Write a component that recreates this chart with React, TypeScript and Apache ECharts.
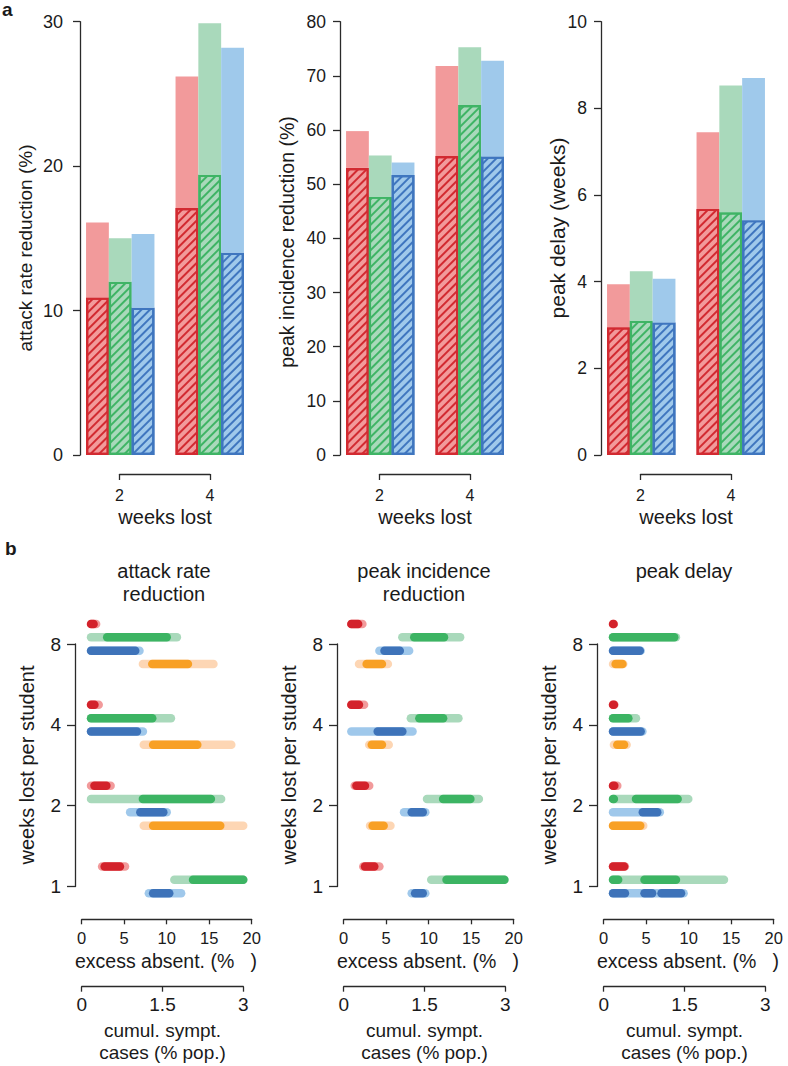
import React, { useEffect, useRef } from "react";
import * as echarts from "echarts";

// ---------- data: panel a (bars) ----------
const weeksLost = ["2", "4"];
const barColours = ["red", "green", "blue"];
// totals (light bars) and hatched part, per colour [red, green, blue], per weeks lost [2, 4]
const attackTotal = [[16.1, 26.2], [15.0, 29.9], [15.3, 28.2]];
const attackHatched = [[10.9, 17.1], [12.0, 19.4], [10.2, 14.0]];
const peakTotal = [[59.8, 71.8], [55.3, 75.3], [54.0, 72.8]];
const peakHatched = [[53.0, 55.2], [47.7, 64.6], [51.7, 55.1]];
const delayTotal = [[3.94, 7.45], [4.24, 8.53], [4.07, 8.7]];
const delayHatched = [[2.95, 5.68], [3.1, 5.6], [3.06, 5.42]];
const topMax = [30, 80, 10];
const topInterval = [10, 10, 2];
const topNames = ["attack rate reduction (%)", "peak incidence reduction (%)", "peak delay (weeks)"];

// ---------- data: panel b (ranges) ----------
const weeksPerStudent = ["1", "2", "4", "8"];
const rowColours = ["red", "green", "blue", "orange"];
// [weeks, colour, light lo, light hi, dark segments]
const attackRows: any[] = [
  ["8", "red", 1.1, 1.7, [[1.1, 1.4]]],
  ["8", "green", 1.1, 11.2, [[3.0, 10.0]]],
  ["8", "blue", 1.1, 6.8, [[1.1, 6.3]]],
  ["8", "orange", 7.2, 15.5, [[8.3, 12.5]]],
  ["4", "red", 1.1, 2.0, [[1.1, 1.5]]],
  ["4", "green", 1.1, 10.5, [[1.1, 8.3]]],
  ["4", "blue", 1.1, 7.2, [[1.1, 6.5]]],
  ["4", "orange", 7.3, 17.6, [[8.4, 13.6]]],
  ["2", "red", 1.1, 3.4, [[1.5, 2.9]]],
  ["2", "green", 1.1, 16.4, [[7.2, 15.2]]],
  ["2", "blue", 5.7, 10.0, [[6.9, 9.6]]],
  ["2", "orange", 7.3, 19.0, [[8.4, 16.3]]],
  ["1", "red", 2.4, 5.1, [[2.7, 4.5]]],
  ["1", "green", 10.9, 19.0, [[13.1, 19.0]]],
  ["1", "blue", 7.9, 11.7, [[8.4, 10.3]]],
];
const peakRows: any[] = [
  ["8", "red", 0.9, 2.2, [[0.9, 1.7]]],
  ["8", "green", 6.9, 13.7, [[8.3, 11.8]]],
  ["8", "blue", 4.2, 7.7, [[4.8, 6.6]]],
  ["8", "orange", 1.8, 5.2, [[2.7, 4.5]]],
  ["4", "red", 0.9, 2.4, [[0.9, 1.8]]],
  ["4", "green", 7.9, 13.5, [[8.9, 11.7]]],
  ["4", "blue", 0.9, 8.1, [[4.0, 6.9]]],
  ["4", "orange", 3.0, 5.3, [[3.3, 4.5]]],
  ["2", "red", 1.3, 3.0, [[1.5, 2.5]]],
  ["2", "green", 9.8, 15.9, [[11.7, 14.9]]],
  ["2", "blue", 7.1, 9.6, [[8.0, 9.3]]],
  ["2", "orange", 3.1, 5.5, [[3.4, 4.7]]],
  ["1", "red", 2.3, 4.2, [[2.5, 3.6]]],
  ["1", "green", 10.3, 18.9, [[12.1, 18.9]]],
  ["1", "blue", 8.0, 9.6, [[8.4, 9.3]]],
];
const delayRows: any[] = [
  ["8", "red", 1.1, 1.2, [[1.1, 1.15]]],
  ["8", "green", 1.1, 8.5, [[1.1, 8.3]]],
  ["8", "blue", 1.1, 4.35, [[1.1, 4.25]]],
  ["8", "orange", 1.1, 2.3, [[1.4, 2.2]]],
  ["4", "red", 1.1, 1.25, [[1.1, 1.2]]],
  ["4", "green", 1.1, 3.8, [[1.1, 2.9]]],
  ["4", "blue", 1.1, 4.55, [[1.1, 4.35]]],
  ["4", "orange", 1.2, 2.7, [[1.6, 2.4]]],
  ["2", "red", 1.1, 1.6, [[1.1, 1.25]]],
  ["2", "green", 1.1, 9.95, [[1.1, 1.2], [3.8, 8.7]]],
  ["2", "blue", 1.1, 6.6, [[4.6, 6.3]]],
  ["2", "orange", 1.1, 4.65, [[1.1, 4.3]]],
  ["1", "red", 1.1, 2.5, [[1.1, 2.4]]],
  ["1", "green", 1.1, 14.15, [[1.1, 1.7], [4.8, 8.5]]],
  ["1", "blue", 1.1, 9.4, [[1.1, 2.5], [4.8, 5.7], [6.8, 9.1]]],
];
const bottomTitles = [["attack rate", "reduction"], ["peak incidence", "reduction"], ["peak delay"]];
const absentTicks = [0, 20, 5];
const casesTicks = [0, 3, 1.5];

// ---------- styles ----------
const FONT = "'Liberation Sans', Arial, Helvetica, sans-serif";
const TXT = "#1a1a1a";
const AX = "#2a2a2a";
const barLight = ["#f29a9b", "#a9d9bb", "#9fc9eb"];
const barDark = ["#d22a31", "#3fb465", "#3f76bf"];
const rangeLight = ["#f29a9b", "#a9d9bb", "#9fc8eb", "#fdd6b4"];
const rangeDark = ["#d3222b", "#3cb463", "#3e73b9", "#f8a025"];
const rowOffsets = [-20, -6.7, 6.7, 20];

function buildRangeData(rows: any[]) {
  const light: number[][] = [];
  const dark: number[][] = [];
  rows.forEach(([wk, col, lo, hi, segs]) => {
    const g = weeksPerStudent.indexOf(wk);
    const c = rowColours.indexOf(col);
    light.push([lo, hi, g, c, 0]);
    segs.forEach(([a, b]: number[]) => dark.push([a, b, g, c, 1]));
  });
  return light.concat(dark);
}

function buildOption() {
  const grid: any[] = [];
  const xAxis: any[] = [];
  const yAxis: any[] = [];
  const series: any[] = [];
  const graphic: any[] = [];
  const add = (g: any, x: any, y: any) => {
    const i = grid.length;
    grid.push(g);
    xAxis.push({ ...x, gridIndex: i });
    yAxis.push({ ...y, gridIndex: i });
    return i;
  };
  const hiddenV = { type: "value", min: 0, max: 1, show: false };
  const line = { show: true, lineStyle: { color: AX, width: 1.3 } };
  const text = (t: string, x: number, y: number, size: number, extra: any = {}) =>
    graphic.push({
      type: "text",
      x,
      y,
      rotation: extra.rotation || 0,
      style: {
        text: t,
        fontSize: size,
        fontFamily: FONT,
        fontWeight: extra.bold ? "bold" : "normal",
        fill: TXT,
        align: extra.align || "center",
        verticalAlign: "middle",
      },
    });

  // ---- panel a ----
  const totals = [attackTotal, peakTotal, delayTotal];
  const hatched = [attackHatched, peakHatched, delayHatched];
  const topDX = [0, 260, 521];
  const tickFont = [18, 17.5, 17.5];
  const nameX = [25, 287, 557];
  const nameY = [248, 242, 228];
  const nameSize = [19, 19.5, 21];
  for (let p = 0; p < 3; p++) {
    const dx = topDX[p];
    const gb = add(
      { left: 75.5 + dx, top: 21.7, width: 179, height: 433.3 },
      { type: "category", data: weeksLost, show: false },
      { type: "value", min: 0, max: topMax[p], show: false }
    );
    barColours.forEach((_, c) => {
      series.push({
        type: "bar",
        xAxisIndex: gb,
        yAxisIndex: gb,
        stack: `s${p}_${c}`,
        barWidth: 22.8,
        barGap: "0%",
        data: hatched[p][c],
        itemStyle: {
          color: barLight[c],
          borderColor: barDark[c],
          borderWidth: 2.2,
          decal: {
            symbol: "rect",
            symbolSize: 1,
            color: barDark[c],
            dashArrayX: [1, 0],
            dashArrayY: [1.8, 3.2],
            rotation: -Math.PI / 4,
          },
        },
      });
      series.push({
        type: "bar",
        xAxisIndex: gb,
        yAxisIndex: gb,
        stack: `s${p}_${c}`,
        barWidth: 22.8,
        barGap: "0%",
        data: totals[p][c].map((v, i) => +(v - hatched[p][c][i]).toFixed(3)),
        itemStyle: { color: barLight[c] },
      });
    });
    add(
      { left: 80 + dx, top: 21.7, width: 10, height: 433.3 },
      hiddenV,
      {
        type: "value",
        min: 0,
        max: topMax[p],
        interval: topInterval[p],
        axisLine: line,
        axisTick: { show: true, length: 7, lineStyle: { color: AX, width: 1.3 } },
        axisLabel: { fontSize: tickFont[p], fontFamily: FONT, color: TXT, margin: p === 0 ? 17 : 14 },
        splitLine: { show: false },
      }
    );
    add(
      { left: 119.5 + dx, top: 460, width: 90.5, height: 14 },
      {
        type: "value",
        min: 2,
        max: 4,
        interval: 2,
        axisLine: line,
        axisTick: { show: true, length: 6, lineStyle: { color: AX, width: 1.3 } },
        axisLabel: { fontSize: 16, fontFamily: FONT, color: TXT, margin: 13 },
        splitLine: { show: false },
      },
      hiddenV
    );
    text(topNames[p], nameX[p], nameY[p], nameSize[p], { rotation: Math.PI / 2 });
    text("weeks lost", 165 + dx, 517, 20);
  }
  text("a", 2, 9, 19, { bold: true, align: "left" });
  text("b", 5, 548, 19, { bold: true, align: "left" });

  // ---- panel b ----
  const rows = [attackRows, peakRows, delayRows];
  const botDX = [0, 262, 522];
  const titleX = [164, 424, 684];
  const yNameX = [27, 289, 549];
  for (let p = 0; p < 3; p++) {
    const dx = botDX[p];
    const gd = add(
      { left: 81.7 + dx, top: 644, width: 170, height: 242.5 },
      { type: "value", min: absentTicks[0], max: absentTicks[1], show: false },
      { type: "value", min: 0, max: 3, show: false }
    );
    series.push({
      type: "custom",
      xAxisIndex: gd,
      yAxisIndex: gd,
      clip: false,
      encode: { x: [0, 1], y: 2 },
      data: buildRangeData(rows[p]),
      renderItem: (params: any, api: any) => {
        const lo = api.value(0);
        const hi = api.value(1);
        const g = api.value(2);
        const c = api.value(3);
        const d = api.value(4);
        const a = api.coord([lo, g]);
        const b = api.coord([hi, g]);
        const y = a[1] + rowOffsets[c];
        return {
          type: "line",
          shape: { x1: a[0], y1: y, x2: b[0], y2: y },
          style: { stroke: d ? rangeDark[c] : rangeLight[c], lineWidth: 8.5, lineCap: "round" },
        };
      },
    });
    add(
      { left: 75 + dx, top: 644, width: 5, height: 242.5 },
      hiddenV,
      {
        type: "value",
        min: 0,
        max: 3,
        interval: 1,
        axisLine: line,
        axisTick: { show: true, length: 8, lineStyle: { color: AX, width: 1.3 } },
        axisLabel: {
          fontSize: 19,
          fontFamily: FONT,
          color: TXT,
          margin: 14,
          formatter: (v: number) => weeksPerStudent[Math.round(v)],
        },
        splitLine: { show: false },
      }
    );
    add(
      { left: 81.7 + dx, top: 905, width: 170, height: 14.3 },
      {
        type: "value",
        min: absentTicks[0],
        max: absentTicks[1],
        interval: absentTicks[2],
        axisLine: line,
        axisTick: { show: true, length: 5, lineStyle: { color: AX, width: 1.3 } },
        axisLabel: { fontSize: 16.5, fontFamily: FONT, color: TXT, margin: 10 },
        splitLine: { show: false },
      },
      hiddenV
    );
    add(
      { left: 81.7 + dx, top: 975, width: 161.6, height: 11.7 },
      {
        type: "value",
        min: casesTicks[0],
        max: casesTicks[1],
        interval: casesTicks[2],
        axisLine: line,
        axisTick: { show: true, length: 5, lineStyle: { color: AX, width: 1.3 } },
        axisLabel: { fontSize: 19, fontFamily: FONT, color: TXT, margin: 8 },
        splitLine: { show: false },
      },
      hiddenV
    );
    bottomTitles[p].forEach((t, i) => text(t, titleX[p], 571 + i * 23, 20));
    text("weeks lost per student", yNameX[p], 765, 20, { rotation: Math.PI / 2 });
    text("excess absent. (%   )", 166 + dx, 961, 19.5);
    text("cumul. sympt.", 162.5 + dx, 1030, 19);
    text("cases (% pop.)", 162.5 + dx, 1052, 19);
  }

  return {
    animation: false,
    backgroundColor: "#ffffff",
    grid,
    xAxis,
    yAxis,
    series,
    graphic,
  };
}

export default function App() {
  const ref = useRef<HTMLDivElement>(null);
  useEffect(() => {
    if (!ref.current) return;
    const chart = echarts.init(ref.current, undefined, { renderer: "svg" });
    chart.setOption(buildOption() as any);
    return () => chart.dispose();
  }, []);
  return (
    <div
      ref={ref}
      style={{ position: "absolute", left: 0, top: 0, width: 788, height: 1066, background: "#fff" }}
    />
  );
}
